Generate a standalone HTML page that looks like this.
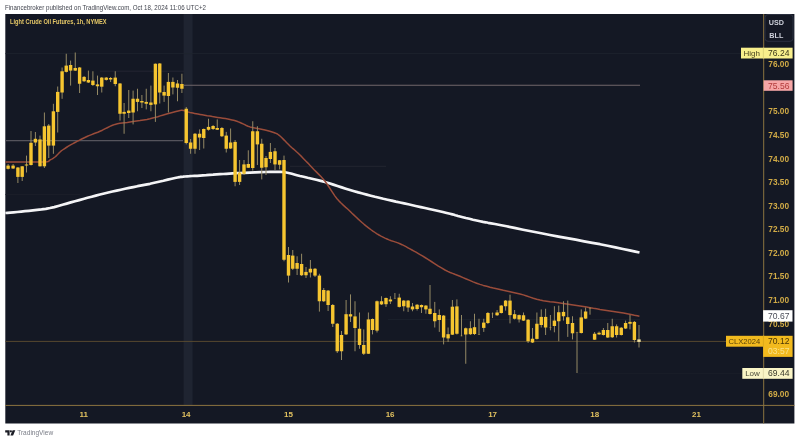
<!DOCTYPE html>
<html lang="en">
<head>
<meta charset="utf-8">
<title>Light Crude Oil Futures, 1h, NYMEX</title>
<style>
html,body{margin:0;padding:0;background:#fff;}
body{width:800px;height:442px;overflow:hidden;position:relative;font-family:"Liberation Sans","DejaVu Sans",sans-serif;}
svg{position:absolute;left:0;top:0;display:block;}
text{font-family:"Liberation Sans","DejaVu Sans",sans-serif;}
</style>
</head>
<body>
<svg width="800" height="442" viewBox="0 0 800 442">
<rect width="800" height="442" fill="#ffffff"/>
<!-- header -->
<text x="5" y="10" font-size="7.2" fill="#42454f" textLength="201" lengthAdjust="spacingAndGlyphs">Financebroker published on TradingView.com, Oct 18, 2024 11:06 UTC+2</text>
<!-- chart background -->
<rect x="5.3" y="14" width="789.1" height="409.5" fill="#141824"/>
<!-- session band -->
<rect x="183.6" y="14" width="9" height="391.4" fill="#1f2431"/>
<!-- faint reference lines -->
<g stroke-width="0.8" fill="none">
<line x1="5.3" x2="741" y1="53.6" y2="53.6" stroke="#20242e"/>
<line x1="100" x2="184" y1="71.2" y2="71.2" stroke="#272a35"/>
<line x1="184" x2="640" y1="85.2" y2="85.2" stroke="#70666a" stroke-width="1.1"/>
<line x1="5.3" x2="183" y1="140.6" y2="140.6" stroke="#55545c" stroke-width="1.1"/>
<line x1="5.3" x2="80" y1="194.5" y2="194.5" stroke="#1c202a"/>
<line x1="290" x2="386" y1="166.3" y2="166.3" stroke="#262a34"/>
<line x1="388" x2="640" y1="319.4" y2="319.4" stroke="#1e2530"/>
<line x1="577" x2="742" y1="373.6" y2="373.6" stroke="#1b1f29"/>
<line x1="5.3" x2="763.6" y1="341.4" y2="341.4" stroke="#5d4e30" stroke-width="0.9"/>
</g>
<!-- moving averages -->
<path d="M5.4 213.0 L7.5 212.8 L10.3 212.6 L13.6 212.3 L17.3 212.0 L21.2 211.6 L25.0 211.2 L28.9 210.8 L32.9 210.4 L37.2 209.9 L41.5 209.4 L45.8 208.8 L50.0 208.0 L54.2 207.1 L58.3 206.0 L62.5 204.8 L66.7 203.6 L70.8 202.4 L75.0 201.2 L79.2 200.1 L83.3 199.0 L87.5 197.8 L91.7 196.7 L95.8 195.6 L100.0 194.5 L104.2 193.5 L108.3 192.5 L112.5 191.5 L116.7 190.6 L120.8 189.7 L125.0 188.8 L129.2 187.9 L133.3 187.1 L137.5 186.2 L141.7 185.4 L145.8 184.6 L150.0 183.8 L154.3 182.8 L158.9 181.7 L163.4 180.7 L167.8 179.6 L171.7 178.7 L175.0 178.0 L177.5 177.5 L179.3 177.2 L180.6 176.9 L181.9 176.8 L183.2 176.7 L185.0 176.5 L187.2 176.3 L189.4 176.2 L191.9 176.0 L194.4 175.9 L197.2 175.8 L200.0 175.6 L203.0 175.4 L206.3 175.2 L209.7 174.9 L213.1 174.7 L216.6 174.4 L220.0 174.2 L223.2 174.0 L226.3 173.8 L229.4 173.6 L232.6 173.4 L236.1 173.2 L240.0 173.0 L244.6 172.8 L249.8 172.6 L255.3 172.4 L260.7 172.2 L265.8 172.0 L270.0 171.9 L273.4 171.8 L276.1 171.8 L278.4 171.8 L280.6 171.8 L282.7 172.0 L285.0 172.2 L287.4 172.7 L289.6 173.2 L291.9 173.8 L294.3 174.5 L296.9 175.2 L300.0 176.0 L303.6 176.8 L307.6 177.8 L311.9 178.7 L316.3 179.8 L320.7 180.9 L325.0 182.0 L329.2 183.2 L333.3 184.6 L337.5 186.0 L341.7 187.4 L345.8 188.7 L350.0 190.0 L354.2 191.2 L358.3 192.4 L362.5 193.5 L366.7 194.6 L370.8 195.7 L375.0 196.8 L379.2 197.8 L383.3 198.8 L387.5 199.7 L391.7 200.6 L395.8 201.6 L400.0 202.5 L404.2 203.4 L408.3 204.3 L412.5 205.2 L416.7 206.2 L420.8 207.1 L425.0 208.0 L429.3 209.0 L433.9 210.0 L438.4 211.0 L442.8 212.0 L446.7 213.0 L450.0 213.8 L452.4 214.4 L454.1 214.8 L455.3 215.2 L456.5 215.5 L457.9 216.0 L460.0 216.5 L462.8 217.2 L465.9 218.0 L469.4 218.8 L473.0 219.7 L476.6 220.5 L480.0 221.2 L483.0 221.9 L485.6 222.3 L488.1 222.8 L491.1 223.3 L494.9 224.0 L500.0 225.0 L506.6 226.3 L514.4 227.9 L523.1 229.7 L532.2 231.5 L541.3 233.3 L550.0 235.0 L558.5 236.6 L567.1 238.2 L575.7 239.7 L584.1 241.3 L592.3 242.8 L600.0 244.2 L607.6 245.8 L615.4 247.4 L622.9 249.0 L629.6 250.4 L635.3 251.6 L639.5 252.5" fill="none" stroke="#f4f4f6" stroke-width="2.7" stroke-linejoin="round" stroke-linecap="butt"/>
<path d="M5.4 162.0 L6.9 162.0 L8.8 162.0 L11.1 162.0 L13.8 162.0 L16.8 162.0 L20.0 162.0 L23.8 162.0 L28.3 162.1 L33.1 162.1 L37.8 162.1 L41.9 162.1 L45.0 162.0 L47.0 161.8 L48.1 161.5 L48.8 161.2 L49.1 160.8 L49.4 160.4 L50.0 160.0 L50.8 159.6 L51.6 159.2 L52.3 158.8 L53.1 158.3 L54.0 157.7 L55.0 157.0 L56.0 156.1 L57.1 155.0 L58.3 153.8 L59.5 152.5 L60.9 151.2 L62.5 150.0 L64.3 148.8 L66.3 147.5 L68.4 146.2 L70.6 144.9 L72.9 143.7 L75.0 142.5 L77.1 141.4 L79.2 140.3 L81.2 139.2 L83.3 138.2 L85.4 137.2 L87.5 136.2 L89.6 135.4 L91.6 134.6 L93.6 133.8 L95.6 133.0 L97.8 132.2 L100.0 131.2 L102.4 130.2 L104.8 128.9 L107.3 127.7 L109.9 126.4 L112.5 125.3 L115.0 124.4 L117.4 123.8 L119.8 123.3 L122.2 123.0 L124.6 122.7 L127.2 122.4 L130.0 122.0 L133.1 121.5 L136.5 121.0 L140.0 120.5 L143.5 119.9 L146.9 119.4 L150.0 118.8 L152.8 118.1 L155.4 117.4 L157.8 116.7 L160.2 115.9 L162.6 115.2 L165.0 114.5 L167.6 113.8 L170.4 113.0 L173.2 112.3 L175.9 111.6 L178.2 111.0 L180.0 110.6 L181.1 110.3 L181.7 110.2 L182.0 110.1 L182.1 110.2 L182.4 110.3 L183.0 110.4 L183.9 110.6 L184.9 110.9 L186.1 111.3 L187.3 111.7 L188.6 112.1 L190.0 112.5 L191.4 112.8 L192.9 113.1 L194.5 113.4 L196.2 113.7 L198.0 114.0 L200.0 114.4 L202.2 114.8 L204.6 115.2 L207.2 115.7 L209.8 116.1 L212.4 116.6 L215.0 117.0 L217.6 117.4 L220.2 117.8 L222.8 118.2 L225.4 118.6 L227.8 119.0 L230.0 119.4 L232.0 119.9 L233.7 120.3 L235.3 120.8 L236.9 121.3 L238.4 121.9 L240.0 122.5 L241.6 123.2 L243.1 123.9 L244.7 124.7 L246.3 125.5 L248.0 126.2 L250.0 126.9 L252.3 127.5 L254.8 128.0 L257.5 128.5 L260.2 129.0 L262.7 129.5 L265.0 130.0 L267.0 130.5 L268.9 131.0 L270.6 131.5 L272.2 132.0 L273.7 132.5 L275.0 133.0 L276.1 133.4 L276.9 133.7 L277.5 134.1 L278.1 134.5 L278.9 135.1 L280.0 136.0 L281.4 137.3 L283.0 138.9 L284.7 140.6 L286.5 142.5 L288.3 144.3 L290.0 146.0 L291.6 147.5 L293.3 148.9 L294.9 150.3 L296.5 151.8 L298.2 153.3 L300.0 155.0 L301.9 156.9 L303.8 158.9 L305.8 161.0 L307.9 163.1 L309.9 165.3 L312.0 167.5 L314.1 169.7 L316.3 171.9 L318.5 174.1 L320.7 176.3 L322.9 178.7 L325.0 181.2 L327.0 184.0 L329.0 187.0 L331.0 190.1 L333.0 193.1 L335.0 196.1 L337.0 198.8 L339.1 201.1 L341.3 203.3 L343.5 205.4 L345.7 207.4 L347.9 209.3 L350.0 211.2 L352.0 213.2 L354.0 215.1 L356.0 217.0 L358.0 218.9 L360.0 220.7 L362.0 222.5 L364.1 224.3 L366.3 226.1 L368.5 227.8 L370.7 229.5 L372.9 231.1 L375.0 232.5 L377.0 233.8 L379.0 235.0 L381.0 236.1 L383.0 237.1 L385.0 238.1 L387.0 239.0 L389.1 239.9 L391.3 240.7 L393.5 241.4 L395.7 242.1 L397.9 242.9 L400.0 243.8 L402.0 244.7 L404.0 245.7 L406.0 246.7 L408.0 247.8 L410.0 248.9 L412.0 250.0 L414.0 251.1 L416.0 252.2 L418.0 253.4 L420.1 254.6 L422.4 255.9 L425.0 257.5 L428.0 259.4 L431.3 261.5 L434.9 263.8 L438.4 266.1 L441.9 268.2 L445.0 270.0 L447.7 271.4 L450.2 272.5 L452.5 273.4 L454.8 274.3 L457.3 275.2 L460.0 276.3 L463.0 277.6 L466.3 279.0 L469.7 280.4 L473.1 281.9 L476.6 283.2 L480.0 284.4 L483.3 285.4 L486.7 286.3 L490.0 287.2 L493.3 288.0 L496.7 288.7 L500.0 289.5 L503.3 290.3 L506.7 291.0 L510.0 291.7 L513.3 292.4 L516.7 293.2 L520.0 294.0 L523.3 294.9 L526.7 296.0 L530.0 297.1 L533.3 298.2 L536.7 299.2 L540.0 300.0 L543.3 300.7 L546.7 301.2 L550.0 301.7 L553.3 302.1 L556.7 302.5 L560.0 303.0 L563.3 303.5 L566.7 304.0 L570.0 304.5 L573.3 305.0 L576.7 305.5 L580.0 306.0 L583.3 306.5 L586.7 307.1 L590.0 307.7 L593.3 308.3 L596.7 308.8 L600.0 309.4 L603.3 309.9 L606.7 310.4 L610.0 310.9 L613.4 311.4 L616.7 311.9 L620.0 312.5 L623.5 313.1 L627.2 313.8 L631.0 314.6 L634.4 315.3 L637.3 315.8 L639.4 316.2" fill="none" stroke="#9a4c3a" stroke-width="1.5" stroke-linejoin="round" stroke-linecap="butt"/>
<!-- candles -->
<g stroke="#948964" stroke-width="1">
<line x1="8.10" x2="8.10" y1="164.00" y2="169.50"/><line x1="13.10" x2="13.10" y1="164.00" y2="169.00"/><line x1="17.90" x2="17.90" y1="167.00" y2="183.00"/><line x1="22.20" x2="22.20" y1="166.00" y2="181.00"/><line x1="26.50" x2="26.50" y1="155.60" y2="172.50"/><line x1="31.00" x2="31.00" y1="131.00" y2="165.50"/><line x1="35.40" x2="35.40" y1="132.00" y2="146.00"/><line x1="40.00" x2="40.00" y1="135.60" y2="166.50"/><line x1="44.40" x2="44.40" y1="112.50" y2="168.00"/><line x1="48.75" x2="48.75" y1="124.00" y2="158.00"/><line x1="53.40" x2="53.40" y1="103.80" y2="153.80"/><line x1="57.70" x2="57.70" y1="86.50" y2="132.50"/><line x1="62.10" x2="62.10" y1="67.50" y2="98.80"/><line x1="66.25" x2="66.25" y1="53.75" y2="72.50"/><line x1="70.60" x2="70.60" y1="60.60" y2="85.60"/><line x1="75.25" x2="75.25" y1="52.50" y2="71.00"/><line x1="79.60" x2="79.60" y1="67.00" y2="93.00"/><line x1="84.10" x2="84.10" y1="76.00" y2="82.00"/><line x1="88.40" x2="88.40" y1="70.60" y2="83.00"/><line x1="92.90" x2="92.90" y1="71.25" y2="86.00"/><line x1="97.50" x2="97.50" y1="75.60" y2="95.00"/><line x1="101.75" x2="101.75" y1="77.00" y2="92.50"/><line x1="106.25" x2="106.25" y1="77.00" y2="80.60"/><line x1="110.60" x2="110.60" y1="77.00" y2="82.00"/><line x1="115.25" x2="115.25" y1="71.25" y2="86.25"/><line x1="120.00" x2="120.00" y1="83.00" y2="120.60"/><line x1="124.10" x2="124.10" y1="103.00" y2="133.75"/><line x1="128.75" x2="128.75" y1="90.00" y2="118.00"/><line x1="133.10" x2="133.10" y1="90.60" y2="124.40"/><line x1="137.50" x2="137.50" y1="88.75" y2="111.25"/><line x1="141.90" x2="141.90" y1="95.00" y2="108.00"/><line x1="146.25" x2="146.25" y1="88.75" y2="109.40"/><line x1="150.90" x2="150.90" y1="85.60" y2="111.25"/><line x1="155.40" x2="155.40" y1="63.50" y2="121.90"/><line x1="159.75" x2="159.75" y1="63.00" y2="103.50"/><line x1="164.10" x2="164.10" y1="85.60" y2="101.90"/><line x1="168.40" x2="168.40" y1="73.00" y2="112.50"/><line x1="172.90" x2="172.90" y1="77.50" y2="94.40"/><line x1="177.50" x2="177.50" y1="80.00" y2="101.25"/><line x1="181.90" x2="181.90" y1="73.75" y2="93.00"/><line x1="186.25" x2="186.25" y1="107.00" y2="144.40"/><line x1="190.60" x2="190.60" y1="139.00" y2="153.75"/><line x1="195.00" x2="195.00" y1="133.00" y2="153.75"/><line x1="199.60" x2="199.60" y1="129.40" y2="150.00"/><line x1="203.75" x2="203.75" y1="128.50" y2="148.50"/><line x1="208.50" x2="208.50" y1="118.75" y2="130.60"/><line x1="213.10" x2="213.10" y1="125.00" y2="130.00"/><line x1="217.25" x2="217.25" y1="119.40" y2="130.00"/><line x1="221.90" x2="221.90" y1="127.00" y2="137.00"/><line x1="226.25" x2="226.25" y1="131.90" y2="152.50"/><line x1="230.60" x2="230.60" y1="128.50" y2="149.00"/><line x1="235.10" x2="235.10" y1="140.00" y2="186.25"/><line x1="239.60" x2="239.60" y1="160.00" y2="185.00"/><line x1="244.00" x2="244.00" y1="160.00" y2="175.00"/><line x1="248.30" x2="248.30" y1="150.30" y2="168.00"/><line x1="252.75" x2="252.75" y1="121.25" y2="170.60"/><line x1="257.40" x2="257.40" y1="126.25" y2="165.00"/><line x1="261.75" x2="261.75" y1="138.75" y2="179.40"/><line x1="266.00" x2="266.00" y1="156.00" y2="175.00"/><line x1="270.40" x2="270.40" y1="143.00" y2="163.00"/><line x1="275.00" x2="275.00" y1="148.00" y2="170.00"/><line x1="279.60" x2="279.60" y1="160.00" y2="169.40"/><line x1="284.00" x2="284.00" y1="155.60" y2="261.25"/><line x1="288.50" x2="288.50" y1="247.00" y2="282.50"/><line x1="292.75" x2="292.75" y1="250.00" y2="270.00"/><line x1="297.10" x2="297.10" y1="256.25" y2="275.00"/><line x1="301.60" x2="301.60" y1="253.75" y2="276.00"/><line x1="306.00" x2="306.00" y1="267.00" y2="278.00"/><line x1="310.40" x2="310.40" y1="260.00" y2="277.50"/><line x1="315.00" x2="315.00" y1="268.00" y2="277.00"/><line x1="319.40" x2="319.40" y1="273.75" y2="311.60"/><line x1="323.75" x2="323.75" y1="288.00" y2="302.00"/><line x1="328.10" x2="328.10" y1="290.00" y2="311.00"/><line x1="332.75" x2="332.75" y1="304.00" y2="327.00"/><line x1="337.25" x2="337.25" y1="323.00" y2="353.00"/><line x1="341.50" x2="341.50" y1="331.00" y2="360.00"/><line x1="346.10" x2="346.10" y1="300.00" y2="335.00"/><line x1="350.50" x2="350.50" y1="294.40" y2="322.00"/><line x1="355.00" x2="355.00" y1="301.25" y2="351.25"/><line x1="359.50" x2="359.50" y1="312.50" y2="348.75"/><line x1="363.75" x2="363.75" y1="329.40" y2="355.00"/><line x1="368.40" x2="368.40" y1="312.50" y2="354.00"/><line x1="372.50" x2="372.50" y1="318.50" y2="334.40"/><line x1="377.00" x2="377.00" y1="300.50" y2="332.50"/><line x1="381.50" x2="381.50" y1="296.25" y2="305.00"/><line x1="386.00" x2="386.00" y1="297.50" y2="306.90"/><line x1="390.40" x2="390.40" y1="296.25" y2="304.00"/><line x1="394.90" x2="394.90" y1="293.00" y2="298.75"/><line x1="399.25" x2="399.25" y1="293.75" y2="307.50"/><line x1="403.75" x2="403.75" y1="300.00" y2="311.25"/><line x1="408.10" x2="408.10" y1="300.00" y2="311.90"/><line x1="412.50" x2="412.50" y1="303.00" y2="311.25"/><line x1="417.10" x2="417.10" y1="304.00" y2="310.50"/><line x1="421.50" x2="421.50" y1="304.50" y2="313.00"/><line x1="425.90" x2="425.90" y1="305.00" y2="313.75"/><line x1="430.00" x2="430.00" y1="285.00" y2="314.50"/><line x1="434.75" x2="434.75" y1="301.90" y2="327.50"/><line x1="439.30" x2="439.30" y1="309.40" y2="331.90"/><line x1="443.60" x2="443.60" y1="315.00" y2="344.40"/><line x1="448.10" x2="448.10" y1="327.50" y2="342.00"/><line x1="452.40" x2="452.40" y1="300.00" y2="335.00"/><line x1="456.90" x2="456.90" y1="299.40" y2="334.50"/><line x1="461.50" x2="461.50" y1="315.00" y2="336.25"/><line x1="465.75" x2="465.75" y1="327.50" y2="363.75"/><line x1="470.40" x2="470.40" y1="321.25" y2="335.00"/><line x1="474.50" x2="474.50" y1="313.75" y2="335.00"/><line x1="479.00" x2="479.00" y1="318.75" y2="335.00"/><line x1="483.75" x2="483.75" y1="318.75" y2="331.90"/><line x1="487.90" x2="487.90" y1="312.00" y2="324.00"/><line x1="492.50" x2="492.50" y1="312.50" y2="318.00"/><line x1="497.10" x2="497.10" y1="310.00" y2="316.00"/><line x1="501.25" x2="501.25" y1="305.00" y2="313.50"/><line x1="505.60" x2="505.60" y1="300.00" y2="310.60"/><line x1="510.00" x2="510.00" y1="294.70" y2="323.40"/><line x1="514.60" x2="514.60" y1="310.00" y2="319.50"/><line x1="519.10" x2="519.10" y1="314.50" y2="322.50"/><line x1="523.50" x2="523.50" y1="312.50" y2="321.00"/><line x1="528.10" x2="528.10" y1="319.00" y2="343.00"/><line x1="532.50" x2="532.50" y1="328.00" y2="343.00"/><line x1="536.90" x2="536.90" y1="312.50" y2="339.50"/><line x1="541.25" x2="541.25" y1="309.40" y2="327.50"/><line x1="545.60" x2="545.60" y1="308.75" y2="335.00"/><line x1="550.40" x2="550.40" y1="315.00" y2="330.30"/><line x1="554.40" x2="554.40" y1="306.25" y2="332.30"/><line x1="558.75" x2="558.75" y1="305.60" y2="341.25"/><line x1="563.50" x2="563.50" y1="301.25" y2="320.60"/><line x1="567.75" x2="567.75" y1="300.60" y2="336.90"/><line x1="572.50" x2="572.50" y1="316.25" y2="339.40"/><line x1="577.00" x2="577.00" y1="331.90" y2="373.00"/><line x1="581.25" x2="581.25" y1="309.40" y2="333.50"/><line x1="585.60" x2="585.60" y1="307.50" y2="319.00"/><line x1="590.00" x2="590.00" y1="307.50" y2="314.70"/><line x1="594.60" x2="594.60" y1="332.00" y2="340.00"/><line x1="599.10" x2="599.10" y1="331.50" y2="335.00"/><line x1="603.40" x2="603.40" y1="328.00" y2="335.50"/><line x1="607.75" x2="607.75" y1="323.00" y2="338.00"/><line x1="612.25" x2="612.25" y1="318.75" y2="338.00"/><line x1="616.60" x2="616.60" y1="324.40" y2="337.50"/><line x1="621.25" x2="621.25" y1="327.00" y2="335.50"/><line x1="625.60" x2="625.60" y1="320.60" y2="329.00"/><line x1="630.00" x2="630.00" y1="315.00" y2="329.40"/><line x1="634.40" x2="634.40" y1="321.00" y2="342.50"/><line x1="639.00" x2="639.00" y1="325.00" y2="347.50"/>
</g>
<g fill="#f6c530">
<rect x="6.40" y="165.60" width="3.4" height="3.20"/><rect x="11.40" y="165.60" width="3.4" height="2.90"/><rect x="16.20" y="167.50" width="3.4" height="9.40"/><rect x="20.50" y="166.30" width="3.4" height="10.60"/><rect x="24.80" y="164.50" width="3.4" height="1.00"/><rect x="29.30" y="142.80" width="3.4" height="22.20"/><rect x="33.70" y="138.80" width="3.4" height="3.70"/><rect x="38.30" y="139.40" width="3.4" height="26.90"/><rect x="42.70" y="126.30" width="3.4" height="40.00"/><rect x="47.05" y="125.60" width="3.4" height="20.00"/><rect x="51.70" y="111.30" width="3.4" height="34.30"/><rect x="56.00" y="91.90" width="3.4" height="20.00"/><rect x="60.40" y="71.30" width="3.4" height="21.20"/><rect x="64.55" y="65.60" width="3.4" height="6.30"/><rect x="68.90" y="65.00" width="3.4" height="5.60"/><rect x="73.55" y="68.00" width="3.4" height="2.60"/><rect x="77.90" y="67.50" width="3.4" height="16.25"/><rect x="82.40" y="76.90" width="3.4" height="4.35"/><rect x="86.70" y="80.00" width="3.4" height="2.50"/><rect x="91.20" y="80.60" width="3.4" height="4.40"/><rect x="95.80" y="84.40" width="3.4" height="1.85"/><rect x="100.05" y="77.60" width="3.4" height="9.10"/><rect x="104.55" y="77.60" width="3.4" height="2.30"/><rect x="108.90" y="78.00" width="3.4" height="1.50"/><rect x="113.55" y="77.60" width="3.4" height="6.40"/><rect x="118.30" y="83.50" width="3.4" height="30.25"/><rect x="122.40" y="111.90" width="3.4" height="1.85"/><rect x="127.05" y="110.60" width="3.4" height="2.40"/><rect x="131.40" y="98.75" width="3.4" height="13.75"/><rect x="135.80" y="98.75" width="3.4" height="3.15"/><rect x="140.20" y="101.00" width="3.4" height="1.50"/><rect x="144.55" y="101.90" width="3.4" height="1.85"/><rect x="149.20" y="102.50" width="3.4" height="2.40"/><rect x="153.70" y="63.75" width="3.4" height="40.65"/><rect x="158.05" y="63.50" width="3.4" height="29.00"/><rect x="162.40" y="92.00" width="3.4" height="3.60"/><rect x="166.70" y="81.90" width="3.4" height="14.10"/><rect x="171.20" y="81.90" width="3.4" height="5.60"/><rect x="175.80" y="83.50" width="3.4" height="4.25"/><rect x="180.20" y="84.00" width="3.4" height="4.75"/><rect x="184.55" y="108.75" width="3.4" height="34.25"/><rect x="188.90" y="142.50" width="3.4" height="6.25"/><rect x="193.30" y="133.75" width="3.4" height="15.00"/><rect x="197.90" y="133.75" width="3.4" height="3.75"/><rect x="202.05" y="129.00" width="3.4" height="9.00"/><rect x="206.80" y="126.90" width="3.4" height="2.85"/><rect x="211.40" y="126.00" width="3.4" height="3.00"/><rect x="215.55" y="128.00" width="3.4" height="1.75"/><rect x="220.20" y="128.00" width="3.4" height="8.25"/><rect x="224.55" y="135.60" width="3.4" height="13.15"/><rect x="228.90" y="142.50" width="3.4" height="6.00"/><rect x="233.40" y="141.90" width="3.4" height="40.00"/><rect x="237.90" y="172.50" width="3.4" height="9.40"/><rect x="242.30" y="164.40" width="3.4" height="9.35"/><rect x="246.60" y="164.00" width="3.4" height="3.75"/><rect x="251.05" y="131.25" width="3.4" height="36.75"/><rect x="255.70" y="131.25" width="3.4" height="13.15"/><rect x="260.05" y="143.75" width="3.4" height="24.00"/><rect x="264.30" y="158.00" width="3.4" height="9.25"/><rect x="268.70" y="151.90" width="3.4" height="7.10"/><rect x="273.30" y="151.25" width="3.4" height="13.15"/><rect x="277.90" y="160.25" width="3.4" height="4.50"/><rect x="282.30" y="160.00" width="3.4" height="99.75"/><rect x="286.80" y="255.00" width="3.4" height="20.60"/><rect x="291.05" y="255.60" width="3.4" height="13.15"/><rect x="295.40" y="263.00" width="3.4" height="5.75"/><rect x="299.90" y="264.00" width="3.4" height="11.25"/><rect x="304.30" y="271.90" width="3.4" height="3.35"/><rect x="308.70" y="268.75" width="3.4" height="3.75"/><rect x="313.30" y="268.75" width="3.4" height="6.85"/><rect x="317.70" y="275.60" width="3.4" height="25.65"/><rect x="322.05" y="290.00" width="3.4" height="11.25"/><rect x="326.40" y="290.60" width="3.4" height="14.40"/><rect x="331.05" y="305.00" width="3.4" height="18.75"/><rect x="335.55" y="323.75" width="3.4" height="27.50"/><rect x="339.80" y="335.00" width="3.4" height="16.25"/><rect x="344.40" y="314.20" width="3.4" height="20.20"/><rect x="348.80" y="314.20" width="3.4" height="2.30"/><rect x="353.30" y="316.40" width="3.4" height="11.60"/><rect x="357.80" y="328.75" width="3.4" height="16.25"/><rect x="362.05" y="345.00" width="3.4" height="8.75"/><rect x="366.70" y="319.40" width="3.4" height="34.35"/><rect x="370.80" y="319.00" width="3.4" height="11.00"/><rect x="375.30" y="301.25" width="3.4" height="29.35"/><rect x="379.80" y="301.25" width="3.4" height="3.15"/><rect x="384.30" y="298.00" width="3.4" height="6.20"/><rect x="388.70" y="299.50" width="3.4" height="1.90"/><rect x="393.70" y="298.00" width="2.4" height="0.70" opacity="0.35"/><rect x="397.55" y="297.60" width="3.4" height="9.30"/><rect x="402.05" y="300.60" width="3.4" height="5.65"/><rect x="406.40" y="300.60" width="3.4" height="6.90"/><rect x="410.80" y="306.50" width="3.4" height="2.90"/><rect x="415.40" y="304.75" width="3.4" height="4.25"/><rect x="419.80" y="305.00" width="3.4" height="2.25"/><rect x="424.20" y="305.60" width="3.4" height="3.80"/><rect x="428.30" y="308.75" width="3.4" height="5.25"/><rect x="433.05" y="313.00" width="3.4" height="8.25"/><rect x="437.60" y="315.00" width="3.4" height="5.00"/><rect x="441.90" y="315.60" width="3.4" height="21.90"/><rect x="446.40" y="334.20" width="3.4" height="4.20"/><rect x="450.70" y="306.70" width="3.4" height="28.00"/><rect x="455.20" y="306.40" width="3.4" height="27.35"/><rect x="460.30" y="335.50" width="2.4" height="0.75" opacity="0.35"/><rect x="464.05" y="328.25" width="3.4" height="6.25"/><rect x="468.70" y="328.25" width="3.4" height="5.95"/><rect x="472.80" y="327.20" width="3.4" height="6.80"/><rect x="477.80" y="334.00" width="2.4" height="0.70" opacity="0.35"/><rect x="482.05" y="322.60" width="3.4" height="5.30"/><rect x="486.20" y="313.00" width="3.4" height="10.00"/><rect x="491.30" y="313.50" width="2.4" height="0.70" opacity="0.35"/><rect x="495.40" y="312.50" width="3.4" height="2.75"/><rect x="499.55" y="305.60" width="3.4" height="7.40"/><rect x="503.90" y="300.60" width="3.4" height="5.65"/><rect x="508.30" y="300.60" width="3.4" height="14.50"/><rect x="512.90" y="314.20" width="3.4" height="4.55"/><rect x="517.40" y="315.10" width="3.4" height="4.30"/><rect x="521.80" y="315.25" width="3.4" height="5.35"/><rect x="526.40" y="319.75" width="3.4" height="21.50"/><rect x="530.80" y="338.75" width="3.4" height="3.75"/><rect x="535.20" y="323.75" width="3.4" height="15.15"/><rect x="539.55" y="316.90" width="3.4" height="8.10"/><rect x="543.90" y="316.90" width="3.4" height="10.60"/><rect x="549.20" y="327.00" width="2.4" height="0.75" opacity="0.35"/><rect x="552.70" y="320.60" width="3.4" height="5.40"/><rect x="557.05" y="312.25" width="3.4" height="9.00"/><rect x="561.80" y="311.90" width="3.4" height="4.35"/><rect x="566.05" y="317.25" width="3.4" height="6.75"/><rect x="570.80" y="323.00" width="3.4" height="10.30"/><rect x="575.80" y="332.00" width="2.4" height="0.70" opacity="0.35"/><rect x="579.55" y="317.40" width="3.4" height="15.60"/><rect x="583.90" y="311.50" width="3.4" height="7.10"/><rect x="588.80" y="307.80" width="2.4" height="0.70" opacity="0.35"/><rect x="592.90" y="333.75" width="3.4" height="5.95"/><rect x="597.40" y="332.75" width="3.4" height="1.65"/><rect x="601.70" y="330.00" width="3.4" height="5.00"/><rect x="606.05" y="330.00" width="3.4" height="7.50"/><rect x="610.55" y="326.25" width="3.4" height="11.00"/><rect x="614.90" y="326.25" width="3.4" height="8.75"/><rect x="619.55" y="327.75" width="3.4" height="7.25"/><rect x="623.90" y="323.00" width="3.4" height="5.50"/><rect x="628.30" y="321.90" width="3.4" height="1.85"/><rect x="632.70" y="321.90" width="3.4" height="18.10"/><rect x="637.30" y="339.40" width="3.4" height="2.50" fill="#f3e2a0"/>
</g>
<!-- axes -->
<line x1="5.3" x2="794.4" y1="405.4" y2="405.4" stroke="#8c7440" stroke-width="1"/>
<line x1="763.7" x2="763.7" y1="14" y2="423.5" stroke="#8c7440" stroke-width="1"/>
<!-- title -->
<text x="10" y="24.2" font-size="7.4" font-weight="bold" fill="#e6c867" textLength="96.5" lengthAdjust="spacingAndGlyphs">Light Crude Oil Futures, 1h, NYMEX</text>
<!-- currency box -->
<rect x="765" y="14.5" width="28" height="26.8" rx="3" fill="none" stroke="#2b3040" stroke-width="1"/>
<g font-size="7.2" font-weight="bold" fill="#cdd0da" text-anchor="middle">
<text x="776.3" y="25.2">USD</text>
<text x="776.3" y="38.3">BLL</text>
</g>
<!-- price scale -->
<g font-size="8.2" fill="#d0aa46" font-weight="bold"><text x="768.3" y="67.3" textLength="20.8" lengthAdjust="spacingAndGlyphs">76.00</text><text x="768.3" y="114.4" textLength="20.8" lengthAdjust="spacingAndGlyphs">75.00</text><text x="768.3" y="138.0" textLength="20.8" lengthAdjust="spacingAndGlyphs">74.50</text><text x="768.3" y="161.6" textLength="20.8" lengthAdjust="spacingAndGlyphs">74.00</text><text x="768.3" y="185.2" textLength="20.8" lengthAdjust="spacingAndGlyphs">73.50</text><text x="768.3" y="208.7" textLength="20.8" lengthAdjust="spacingAndGlyphs">73.00</text><text x="768.3" y="232.3" textLength="20.8" lengthAdjust="spacingAndGlyphs">72.50</text><text x="768.3" y="255.9" textLength="20.8" lengthAdjust="spacingAndGlyphs">72.00</text><text x="768.3" y="279.4" textLength="20.8" lengthAdjust="spacingAndGlyphs">71.50</text><text x="768.3" y="303.0" textLength="20.8" lengthAdjust="spacingAndGlyphs">71.00</text><text x="768.3" y="326.8" textLength="20.8" lengthAdjust="spacingAndGlyphs">70.50</text><text x="768.3" y="397.3" textLength="20.8" lengthAdjust="spacingAndGlyphs">69.00</text></g>
<!-- time scale -->
<g font-size="8" fill="#e2c260" text-anchor="middle" font-weight="bold"><text x="83.7" y="417.4">11</text><text x="186.1" y="417.4">14</text><text x="288.5" y="417.4">15</text><text x="390.1" y="417.4">16</text><text x="492.6" y="417.4">17</text><text x="594.8" y="417.4">18</text><text x="696.5" y="417.4">21</text></g>
<!-- labels -->
<rect x="741" y="47.7" width="51.6" height="10.8" fill="#f8ef8c"/>
<line x1="763.4" x2="763.4" y1="47.7" y2="58.5" stroke="#d9cf74" stroke-width="0.8"/>
<text x="751.8" y="56" font-size="8" fill="#4a4520" text-anchor="middle">High</text>
<text x="768" y="56" font-size="8.4" fill="#3a3618" textLength="21.4" lengthAdjust="spacingAndGlyphs">76.24</text>
<rect x="763.6" y="80.3" width="29" height="10.5" fill="#f6a6a6"/>
<text x="768" y="88.5" font-size="8.4" fill="#b23a3a" textLength="21.4" lengthAdjust="spacingAndGlyphs">75.56</text>
<rect x="763.1" y="310.2" width="29.4" height="11.4" fill="#ffffff"/>
<text x="768" y="319.2" font-size="8.4" fill="#4a4d58" textLength="21.4" lengthAdjust="spacingAndGlyphs">70.67</text>
<rect x="726" y="335.8" width="38" height="10.9" fill="#f2ba1e"/>
<rect x="763.1" y="335.8" width="29.5" height="21.1" fill="#f2ba1e"/>
<line x1="763.4" x2="763.4" y1="335.8" y2="346.7" stroke="#d9a416" stroke-width="0.8"/>
<text x="744.3" y="344.4" font-size="7.6" fill="#5a4208" text-anchor="middle">CLX2024</text>
<text x="768" y="344.4" font-size="8.4" fill="#4a3606" textLength="21.4" lengthAdjust="spacingAndGlyphs">70.12</text>
<text x="768" y="354.3" font-size="8.4" fill="#f9e38a" textLength="21.4" lengthAdjust="spacingAndGlyphs">03:57</text>
<rect x="742.3" y="368" width="50.3" height="10.8" fill="#faf5c6"/>
<line x1="763.4" x2="763.4" y1="368" y2="378.8" stroke="#ddd7a4" stroke-width="0.8"/>
<text x="752.5" y="376.3" font-size="8" fill="#4a4a3a" text-anchor="middle">Low</text>
<text x="768" y="376.3" font-size="8.4" fill="#3a3a2c" textLength="21.4" lengthAdjust="spacingAndGlyphs">69.44</text>
<!-- footer logo -->
<g fill="#1b1d25">
<path d="M5.2 430.2h4.4v5.2h-2.2v-3h-2.2z"/>
<circle cx="10.9" cy="431.3" r="1.1"/>
<path d="M12.6 430.2h2.7l-2.2 5.2h-2.7z"/>
</g>
<text x="17.2" y="435.4" font-size="7" fill="#7a7d87" textLength="36" lengthAdjust="spacingAndGlyphs">TradingView</text>
</svg>
</body>
</html>
